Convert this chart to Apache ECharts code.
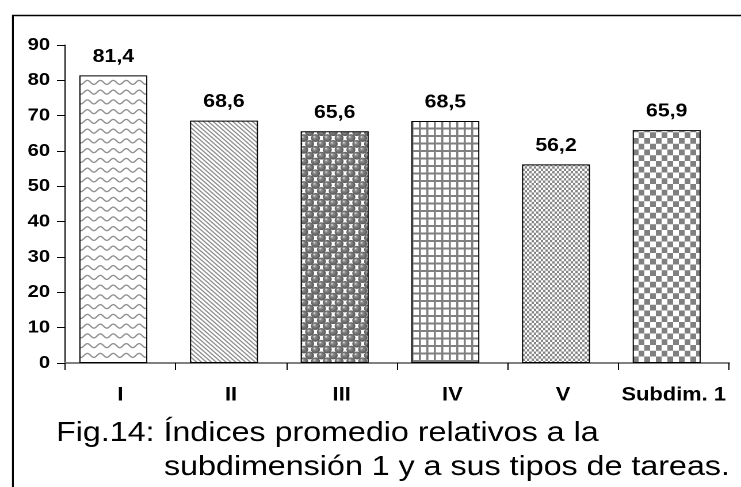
<!DOCTYPE html>
<html>
<head>
<meta charset="utf-8">
<script src="https://cdn.jsdelivr.net/npm/echarts@6/dist/echarts.min.js"></script>
<style>
  html, body { margin: 0; padding: 0; background: #fff; overflow: hidden; width: 741px; height: 487px; }
  /* the figure is laid out 644px wide and widened to the full 741px */
  #chart { position: absolute; left: 0; top: 0; width: 644px; height: 487px;
           transform: scaleX(1.15062); transform-origin: 0 0; }
</style>
</head>
<body>
<div id="chart"></div>
<script>
// Índices promedio por tipo de tarea
const categories = ['I', 'II', 'III', 'IV', 'V', 'Subdim. 1'];
const values = [81.4, 68.6, 65.6, 68.5, 56.2, 65.9];
const yMin = 0, yMax = 90, yStep = 10;
const captionLines = ['Fig.14: Índices promedio relativos a la',
                      'subdimensión 1 y a sus tipos de tareas.'];

const FONT = '"Liberation Sans", Arial, Helvetica, sans-serif';
const R = 4; // tiles are drawn at 4x and scaled down for smooth edges

function tile(w, h, draw) {
  const c = document.createElement('canvas');
  c.width = Math.round(w * R);
  c.height = Math.round(h * R);
  const g = c.getContext('2d');
  g.fillStyle = '#fff';
  g.fillRect(0, 0, c.width, c.height);
  g.scale(R, R);
  draw(g, w, h);
  return { image: c, repeat: 'repeat', scaleX: 1 / R, scaleY: 1 / R };
}

// wave hatch
const wave = tile(11.25, 9.75, (g, w, h) => {
  g.strokeStyle = '#909090';
  g.lineWidth = 1.3;
  for (const oy of [0, h]) {
    g.beginPath();
    for (let x = -1; x <= w + 1; x += 0.25) {
      const y = oy + h / 2 - 0.5 + 2.0 * Math.sin(2 * Math.PI * x / w);
      if (x === -1) g.moveTo(x, y); else g.lineTo(x, y);
    }
    g.stroke();
  }
});

// downward diagonal hatch
const diag = tile(4.25, 4.25, (g, w, h) => {
  g.strokeStyle = '#8c8c8c';
  g.lineWidth = 1.15;
  for (const k of [-1, 0, 1]) {
    g.beginPath();
    g.moveTo(k * w - 1, -1);
    g.lineTo(k * w + w + 1, h + 1);
    g.stroke();
  }
});

// sphere hatch
const sphere = tile(10.25, 11.75, (g, w, h) => {
  const centers = [[w / 4, h / 4], [3 * w / 4, 3 * h / 4]];
  for (const [cx, cy] of centers) {
    for (const dx of [-w, 0, w]) for (const dy of [-h, 0, h]) {
      const x = cx + dx, y = cy + dy;
      const grd = g.createRadialGradient(x - 1.2, y - 1.4, 0.2, x, y, 4.0);
      grd.addColorStop(0, '#ececec');
      grd.addColorStop(0.25, '#8e8e8e');
      grd.addColorStop(0.7, '#6a6a6a');
      grd.addColorStop(1, '#575757');
      g.fillStyle = grd;
      g.beginPath();
      g.arc(x, y, 3.9, 0, Math.PI * 2);
      g.fill();
    }
  }
});

// small grid hatch
const grid = tile(6.5, 7.5, (g, w, h) => {
  g.fillStyle = '#808080';
  g.fillRect(0, 0, w, 2.0);
  g.fillRect(0, 0, 1.8, h);
});

// small checkerboard hatch
const smallCheck = tile(4, 4.75, (g, w, h) => {
  g.fillStyle = '#858585';
  g.fillRect(0, 0, w / 2, h / 2);
  g.fillRect(w / 2, h / 2, w / 2, h / 2);
});

// large checkerboard hatch
const largeCheck = tile(10, 11.5, (g, w, h) => {
  g.fillStyle = '#808080';
  g.fillRect(0, 0, w / 2, h / 2);
  g.fillRect(w / 2, h / 2, w / 2, h / 2);
});

const fills = [wave, diag, sphere, grid, smallCheck, largeCheck];

const chart = echarts.init(document.getElementById('chart'), null, { renderer: 'canvas', devicePixelRatio: 2 });

chart.setOption({
  animation: false,
  backgroundColor: '#fff',
  grid: { left: 56.5, right: 10.4, top: 45, bottom: 124, containLabel: false },
  xAxis: {
    type: 'category',
    data: categories,
    axisLine: { show: true, lineStyle: { color: '#808080', width: 2 } },
    axisTick: { show: true, length: 7, lineStyle: { color: '#000', width: 1 } },
    axisLabel: { interval: 0, margin: 23, color: '#000', fontFamily: FONT, fontWeight: 'bold', fontSize: 19 }
  },
  yAxis: {
    type: 'value',
    min: yMin, max: yMax, interval: yStep,
    splitLine: { show: false },
    axisLine: { show: true, lineStyle: { color: '#000', width: 1 } },
    axisTick: { show: true, length: 7, lineStyle: { color: '#000', width: 1 } },
    axisLabel: { margin: 13, color: '#000', fontFamily: FONT, fontWeight: 'bold', fontSize: 17.5 }
  },
  series: [
    {
      type: 'bar',
      barWidth: 59.1,
      barGap: '0%',
      data: values.map((v, i) => ({ value: v, itemStyle: { color: fills[i] } })),
      itemStyle: { borderColor: '#000', borderWidth: 1 },
      label: {
        show: true, position: 'top', distance: 9,
        color: '#000', fontFamily: FONT, fontWeight: 'bold', fontSize: 18.5,
        formatter: p => p.value.toFixed(1).replace('.', ',')
      }
    },
    {
      // empty companion series: keeps each bar slightly left of its category centre
      type: 'bar',
      barWidth: 12.2,
      barGap: '0%',
      silent: true,
      data: values.map(() => null)
    }
  ],
  graphic: [
    {
      type: 'rect', left: 8.7, top: 13, silent: true,
      shape: { width: 1000, height: 1000 },
      style: { fill: 'none', stroke: '#000', lineWidth: 1.6 }
    },
    {
      type: 'text', left: 48.7, top: 419.3, silent: true,
      style: { text: captionLines[0], font: '28px ' + FONT, fill: '#000' }
    },
    {
      type: 'text', left: 142.5, top: 453.3, silent: true,
      style: { text: captionLines[1], font: '28px ' + FONT, fill: '#000' }
    }
  ]
});
</script>
</body>
</html>
